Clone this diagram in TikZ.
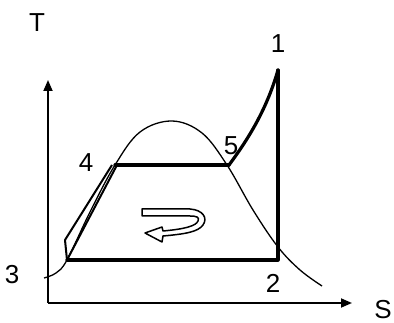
\documentclass[tikz,border=0pt]{standalone}
\usepackage{fontspec}
\setmainfont{Liberation Sans}
\usetikzlibrary{arrows.meta}
\begin{document}
\begin{tikzpicture}[x=1pt,y=-1pt,
  lbl/.style={font=\fontsize{26}{26}\selectfont,inner sep=0pt},
  axis/.style={line width=1.8pt,-{Triangle[length=11pt,width=9pt]}},
  cyc/.style={line width=3.2pt,line cap=round,line join=round},
  pump/.style={line width=2pt,line join=round},
  dome/.style={line width=1.3pt}]
\useasboundingbox (0,0) rectangle (394,323);
% axes
\coordinate (O) at (48,303);
\coordinate (Ty) at (48,80);
\coordinate (Sx) at (352,303);
\draw[axis] (O) -- (Ty);
\draw[axis] (O) -- (Sx);
\node[lbl] (T) at (37,23) {T};
\node[lbl,anchor=east] (S) at (392,310) {S};
% saturation dome
\draw[dome] plot[smooth,tension=0.6] coordinates {(44,278) (56,273) (67,260) (90,212) (115,165) (140,132) (172,121) (202,133) (227,165) (253,210) (278,247) (300,270) (322,286)};
% state points
\coordinate (p1) at (278,70);
\coordinate (p2) at (278,260);
\coordinate (p3) at (67,260);
\coordinate (p4) at (115,165);
\coordinate (p5) at (229,165);
\coordinate (q1) at (65,240);
\coordinate (q2) at (112,165);
\coordinate (q3) at (117,165);
% cycle
\draw[cyc] (p3) -- (p2) -- (p1);
\draw[cyc] (p4) -- (p5);
\draw[cyc] (p5) .. controls (246,142) and (266,112) .. (p1);
\draw[pump] (p3) -- (q1) -- (q2);
\draw[pump] (p3) -- (q3);
% labels
\node[lbl] (l1) at (278,44) {1};
\node[lbl] (l2) at (273,283) {2};
\node[lbl] (l3) at (12,275) {3};
\node[lbl] (l4) at (86,163) {4};
\node[lbl] (l5) at (231,146) {5};
% circulating arrow
\draw[line width=1.5pt,fill=white,line join=round]
  (142,209) -- (190,209) .. controls (203,210) and (208,218) .. (203,225)
  .. controls (198,232) and (185,234) .. (163,236)
  -- (162,242) -- (145,233) -- (162,227) -- (163,231)
  .. controls (185,229) and (196,226) .. (198,221)
  .. controls (200,217) and (196,216) .. (190,216) -- (142,216) -- cycle;
\end{tikzpicture}
\end{document}
